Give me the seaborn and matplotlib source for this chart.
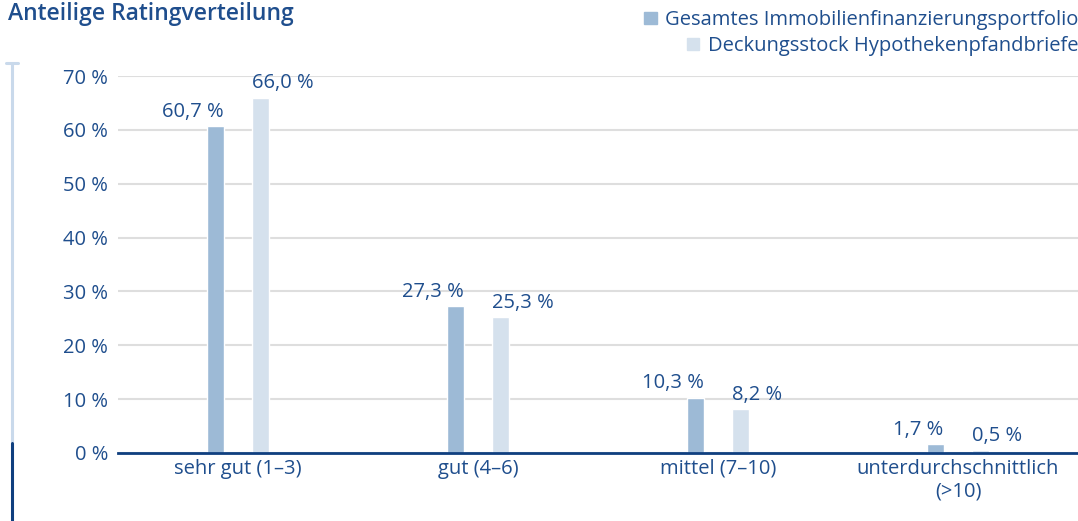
"""Anteilige Ratingverteilung - grouped bar chart."""

import matplotlib.pyplot as plt
import pandas as pd
import seaborn as sns
from matplotlib.lines import Line2D
from matplotlib.patches import Patch


CATEGORIES = [
    "sehr gut (1–3)",
    "gut (4–6)",
    "mittel (7–10)",
    "unterdurchschnittlich\n(>10)",
]
SERIES = [
    "Gesamtes Immobilienfinanzierungsportfolio",
    "Deckungsstock Hypothekenpfandbriefe",
]
PORTFOLIO = [60.7, 27.3, 10.3, 1.7]
DECKUNGSSTOCK = [66.0, 25.3, 8.2, 0.5]
Y_TICKS = [0, 10, 20, 30, 40, 50, 60, 70]
TITLE = "Anteilige Ratingverteilung"

TEXT_COLOR = "#1f4e8d"
AXIS_COLOR = "#0f3f7f"
GRID_COLOR = "#dedede"
BAR_COLORS = ["#9dbad6", "#d5e1ed"]
DECO_LIGHT = "#c9d9eb"

FIG_W, FIG_H = 1078, 521


def fmt(value: float) -> str:
    """German decimal comma with percent sign."""
    return f"{value:.1f}".replace(".", ",") + " %"


def build_frame() -> pd.DataFrame:
    rows = []
    for series, values in zip(SERIES, [PORTFOLIO, DECKUNGSSTOCK]):
        for cat, val in zip(CATEGORIES, values):
            rows.append({"Kategorie": cat, "Serie": series, "Wert": val})
    return pd.DataFrame(rows)


def main() -> None:
    sns.set_theme(style="white")
    plt.rcParams["font.family"] = ["Open Sans", "DejaVu Sans"]

    fig = plt.figure(figsize=(FIG_W / 100, FIG_H / 100), dpi=100)
    ax = fig.add_axes([118 / FIG_W, 68 / FIG_H, 960 / FIG_W, 377 / FIG_H])

    data = build_frame()
    sns.barplot(
        data=data,
        x="Kategorie",
        y="Wert",
        hue="Serie",
        palette=BAR_COLORS,
        saturation=1,
        width=0.375,
        gap=0.64,
        legend=False,
        ax=ax,
    )

    # value labels: first series right-aligned, second left-aligned to the bar
    for idx, container in enumerate(ax.containers):
        for bar in container:
            h = bar.get_height()
            if idx == 0:
                x, ha = bar.get_x() + bar.get_width(), "right"
            else:
                x, ha = bar.get_x(), "left"
            ax.annotate(
                fmt(h),
                (x, h),
                xytext=(0, 3),
                textcoords="offset points",
                ha=ha,
                va="bottom",
                fontsize=14.5,
                color=TEXT_COLOR,
            )

    ax.set_xlim(-0.5, 3.5)
    ax.set_ylim(0, 70)
    ax.set_yticks(Y_TICKS)
    ax.set_yticklabels([f"{t} %" for t in Y_TICKS])
    ax.set_xlabel("")
    ax.set_ylabel("")

    ax.yaxis.grid(True, color=GRID_COLOR, linewidth=1.5)
    ax.set_axisbelow(True)
    for side in ["left", "top", "right"]:
        ax.spines[side].set_visible(False)
    ax.spines["bottom"].set_color(AXIS_COLOR)
    ax.spines["bottom"].set_linewidth(2.0)

    ax.set_xticks([-0.5, 0.5, 1.5, 2.5], minor=True)
    ax.tick_params(axis="x", which="minor", direction="inout", length=8,
                   width=1.6, color=AXIS_COLOR)
    ax.tick_params(axis="x", which="major", length=0, pad=4,
                   labelsize=14.5, labelcolor=TEXT_COLOR)
    ax.tick_params(axis="y", length=0, pad=7, labelsize=14.5,
                   labelcolor=TEXT_COLOR)

    fig.text(8 / FIG_W, 1 - 14 / FIG_H, TITLE, fontsize=16.5, fontweight="semibold",
             color=TEXT_COLOR, ha="left", va="center")

    for i, (series, color) in enumerate(zip(SERIES, BAR_COLORS)):
        fig.legend(
            handles=[Patch(color=color)],
            labels=[series],
            loc="center right",
            bbox_to_anchor=(1.0, 1 - (20 + 26 * i) / FIG_H),
            frameon=False,
            borderpad=0,
            borderaxespad=0,
            handlelength=0.6,
            handleheight=0.6,
            handletextpad=0.4,
            fontsize=14.5,
            labelcolor=TEXT_COLOR,
        )

    # decorative bar on the left edge
    x_deco = 12 / FIG_W
    fig.add_artist(Line2D([x_deco, x_deco], [1 - 63 / FIG_H, 1 - 441 / FIG_H],
                          color=DECO_LIGHT, linewidth=2.2))
    fig.add_artist(Line2D([6 / FIG_W, 18 / FIG_W], [1 - 63 / FIG_H] * 2,
                          color=DECO_LIGHT, linewidth=2.2))
    fig.add_artist(Line2D([x_deco, x_deco], [1 - 443 / FIG_H, 0],
                          color=AXIS_COLOR, linewidth=2.2))

    fig.savefig("out.png", dpi=100)
    plt.close(fig)


if __name__ == "__main__":
    main()
